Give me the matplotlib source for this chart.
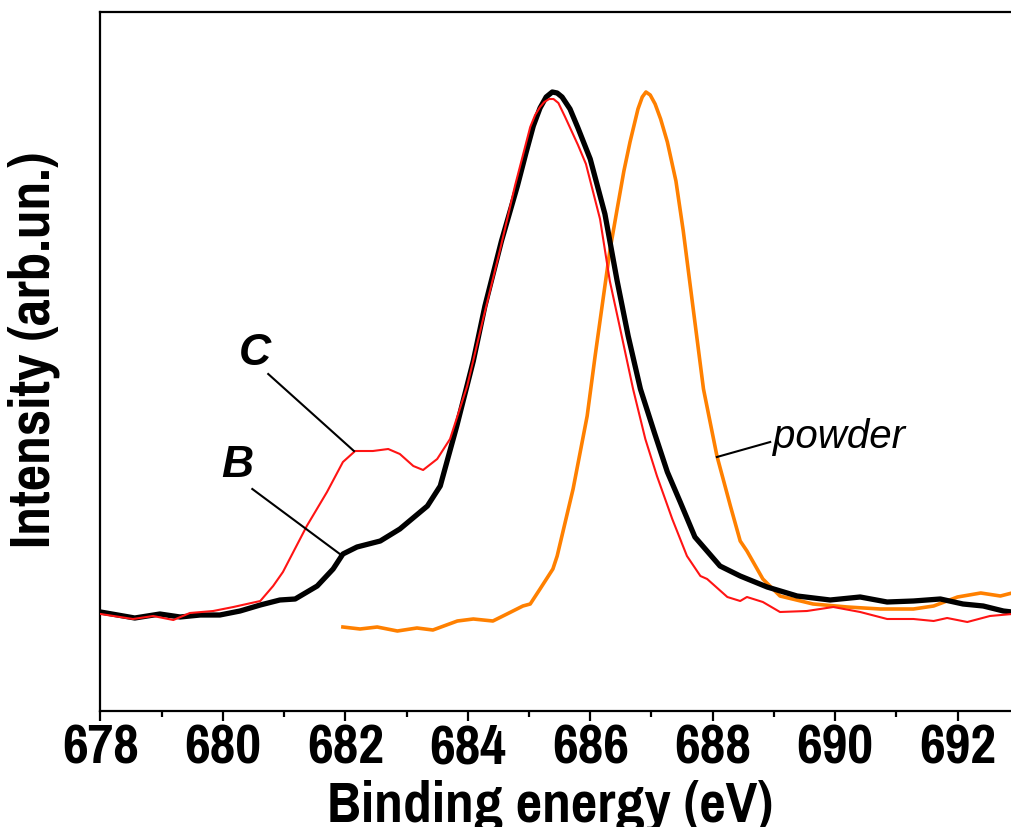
import matplotlib
matplotlib.use("Agg")
import matplotlib.pyplot as plt

# Binding energy (eV) and intensity (arb. units) for each spectrum
energy_B = [678.00, 678.56, 678.97, 679.30, 679.63, 679.95, 680.28, 680.61, 680.93,
            681.18, 681.54, 681.80, 681.96, 682.19, 682.57, 682.89, 683.34, 683.55,
            683.82, 684.09, 684.28, 684.55, 684.81, 684.95, 685.07, 685.18, 685.28,
            685.38, 685.46, 685.54, 685.67, 685.80, 686.00, 686.24, 686.44, 686.62,
            686.82, 687.05, 687.26, 687.47, 687.71, 688.12, 688.45, 688.89, 689.38,
            689.92, 690.41, 690.85, 691.28, 691.72, 692.09, 692.42, 692.75, 692.89]
intensity_B = [99, 93, 97, 94, 96, 96, 100, 106, 111,
               112, 125, 142, 157, 164, 170, 182, 205, 225,
               285, 350, 405, 470, 525, 558, 585, 603, 614,
               619, 618, 614, 602, 583, 552, 497, 430, 375,
               322, 278, 239, 209, 174, 145, 135, 124, 115,
               111, 114, 109, 110, 112, 107, 105, 100, 99]

energy_C = [678.00, 678.53, 678.86, 679.19, 679.46, 679.84, 680.17, 680.61, 680.82,
            680.98, 681.37, 681.70, 681.96, 682.16, 682.45, 682.70, 682.89, 683.11,
            683.27, 683.50, 683.71, 683.99, 684.25, 684.53, 684.77, 685.02, 685.10,
            685.18, 685.25, 685.33, 685.40, 685.48, 685.59, 685.68, 685.80, 685.93,
            686.16, 686.32, 686.49, 686.70, 686.90, 687.09, 687.34, 687.58, 687.80,
            687.91, 688.24, 688.45, 688.56, 688.82, 689.10, 689.54, 689.97, 690.41,
            690.85, 691.28, 691.61, 691.83, 692.16, 692.53, 692.89]
intensity_C = [97, 92, 95, 91, 98, 100, 104, 110, 125,
               139, 185, 219, 249, 260, 260, 262, 257, 245,
               241, 252, 272, 325, 392, 462, 525, 584, 596,
               604, 609, 612, 612, 608, 594, 582, 566, 547,
               492, 430, 382, 322, 272, 235, 192, 155, 135,
               132, 114, 110, 114, 109, 99, 100, 104, 99,
               92, 92, 90, 93, 89, 95, 97]

energy_powder = [681.96, 682.24, 682.52, 682.85, 683.17, 683.43, 683.83, 684.09, 684.41,
                 684.64, 684.90, 685.02, 685.18, 685.39, 685.46, 685.72, 685.95, 686.08,
                 686.21, 686.32, 686.44, 686.55, 686.65, 686.78, 686.85, 686.91, 686.98,
                 687.06, 687.15, 687.26, 687.40, 687.52, 687.67, 687.85, 688.07, 688.29,
                 688.45, 688.56, 688.82, 689.10, 689.64, 690.20, 690.74, 691.28, 691.61,
                 692.00, 692.38, 692.70, 692.89]
intensity_powder = [84, 82, 84, 80, 83, 81, 90, 92, 90,
                    97, 105, 107, 122, 142, 155, 222, 295, 355,
                    412, 460, 502, 540, 569, 602, 614, 619, 616,
                    607, 592, 569, 530, 480, 408, 322, 255, 205,
                    170, 160, 132, 115, 107, 104, 102, 102, 105,
                    114, 118, 115, 118]

xticks = [678, 680, 682, 684, 686, 688, 690, 692]

narrow = ['Pragati Narrow', 'Roboto Condensed', 'Archivo Narrow',
          'IBM Plex Sans Condensed', 'Liberation Sans', 'DejaVu Sans']
regular = ['Liberation Sans', 'DejaVu Sans']
plt.rcParams['font.family'] = narrow

W, H = 1012, 828
fig = plt.figure(figsize=(W / 100, H / 100), dpi=100)
left, right, bottom, top = 100.5, 1012, 712, 13
ax = fig.add_axes([left / W, 1 - bottom / H, (right - left) / W, (bottom - top) / H])

ax.plot(energy_powder, intensity_powder, color='#FF8000', lw=2.6, zorder=2)
ax.plot(energy_B, intensity_B, color='black', lw=3.8, zorder=3)
ax.plot(energy_C, intensity_C, color='#FF1414', lw=1.5, zorder=4)

ax.set_xlim(678, 692.89)
ax.set_ylim(0, 699)

ax.set_xticks(xticks)
ax.set_xticklabels([str(t) for t in xticks], fontsize=44, fontweight='bold')
ax.set_xticks([t + 1 for t in xticks[:-1]], minor=True)
ax.set_yticks([])
ax.tick_params(axis='x', which='major', direction='out', length=7, width=1.6, pad=1)
ax.tick_params(axis='x', which='minor', direction='out', length=4, width=1.6)

for s in ('left', 'bottom', 'top'):
    ax.spines[s].set_linewidth(1.6)
ax.spines['right'].set_visible(False)

# Leader lines and labels for each spectrum
ax.plot([680.74, 682.14], [337, 260], color='black', lw=1.5, zorder=5)
ax.plot([680.48, 681.91], [222, 157], color='black', lw=1.5, zorder=5)
ax.plot([688.07, 688.94], [254, 269], color='black', lw=1.5, zorder=5)

ax.text(680.52, 358, 'C', fontsize=32, fontweight='bold', fontstyle='italic',
        family=regular, ha='center', va='center')
ax.text(680.23, 246, 'B', fontsize=32, fontweight='bold', fontstyle='italic',
        family=regular, ha='center', va='center')
ax.text(688.99, 264, 'powder', fontsize=29, fontstyle='italic',
        family=regular, ha='left', va='baseline')

fig.text(34 / W, 1 - 350 / H, 'Intensity (arb.un.)', rotation=90, fontsize=45,
         fontweight='bold', ha='center', va='center')
fig.text(550 / W, 1 - 780 / H, 'Binding energy (eV)', fontsize=45,
         fontweight='bold', ha='center', va='top')

fig.savefig('out.png', dpi=100)
